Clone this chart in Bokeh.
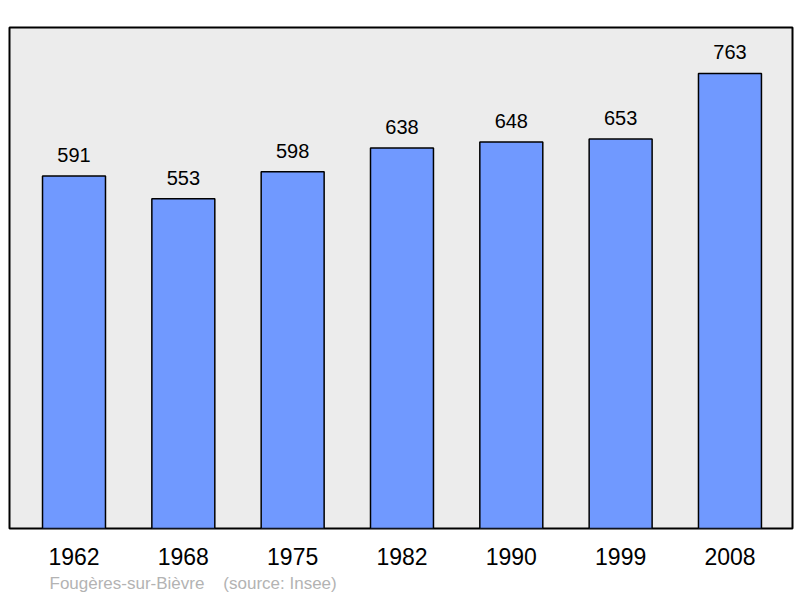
from bokeh.plotting import figure
from bokeh.models import ColumnDataSource, FixedTicker, Range1d, Title
from bokeh.core.properties import value
from bokeh.embed import file_html
from bokeh.resources import INLINE

years = ["1962", "1968", "1975", "1982", "1990", "1999", "2008"]
population = [591, 553, 598, 638, 648, 653, 763]
footer = "Fougères-sur-Bièvre\u00a0\u00a0\u00a0\u00a0(source: Insee)"

xs = list(range(len(years)))
src = ColumnDataSource(dict(x=xs, top=population, label=[str(v) for v in population]))

p = figure(width=800, height=598, output_backend="svg", toolbar_location=None,
           x_range=Range1d(-0.59, 6.572), y_range=Range1d(0, 840),
           min_border_left=9, min_border_right=8, min_border_top=27, min_border_bottom=70)
p.background_fill_color = "#ececec"
p.border_fill_color = "white"
p.outline_line_color = "black"
p.outline_line_width = 2
p.xgrid.visible = False
p.ygrid.visible = False
p.yaxis.visible = False

p.vbar(x="x", top="top", width=0.576, bottom=0, source=src,
       fill_color="#7099ff", line_color="black", line_width=1.5)
p.text(x="x", y="top", text="label", source=src, text_align="center",
       text_baseline="bottom", y_offset=-14, text_font=value("Liberation Sans"),
       text_font_size="20px", text_color="black")

ax = p.xaxis[0]
ax.ticker = FixedTicker(ticks=xs)
ax.major_label_overrides = {i: y for i, y in enumerate(years)}
ax.axis_line_color = None
ax.major_tick_line_color = None
ax.minor_tick_line_color = None
ax.major_label_text_font = "Liberation Sans"
ax.major_label_text_font_size = "23px"
ax.major_label_text_color = "black"
ax.major_label_standoff = 13

t = Title(text=footer, align="left", offset=40, text_font="Liberation Sans",
          text_font_size="17px", text_font_style="normal", text_color="#b3b3b3",
          standoff=8)
p.add_layout(t, "below")

open("out.html", "w").write(file_html(p, INLINE))
